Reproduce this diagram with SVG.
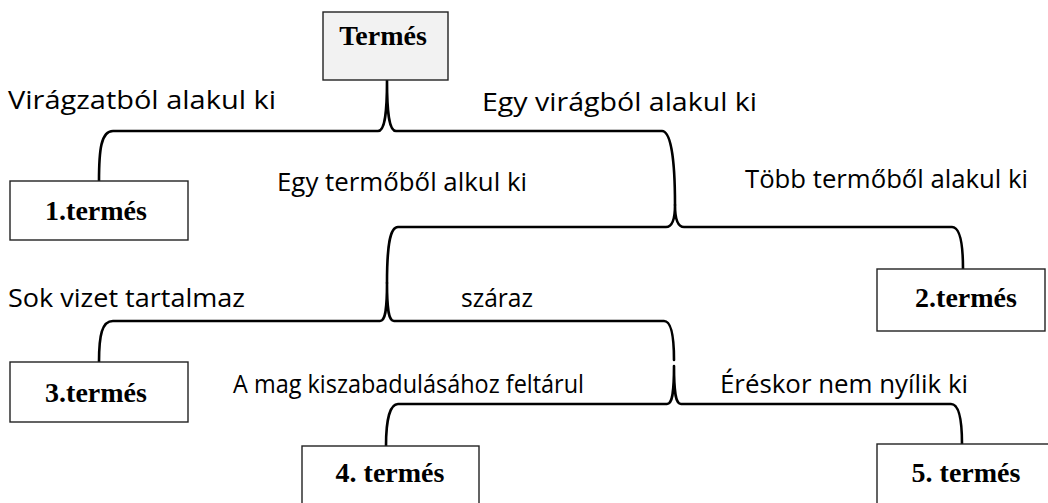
<svg xmlns="http://www.w3.org/2000/svg" width="1048" height="503" viewBox="0 0 1048 503">
<style>
.box{fill:#fff;stroke:#222;stroke-width:1.4}
.root{fill:#f2f2f2;stroke:#222;stroke-width:1.4}
.br{fill:none;stroke:#000;stroke-width:2.6;stroke-linecap:round;stroke-linejoin:round}
.nt{font-family:"Liberation Serif","Times New Roman",serif;font-weight:bold;font-size:28px;fill:#000;text-anchor:middle}
.lb{font-family:"Open Sans","Noto Sans",sans-serif;font-size:25px;fill:#000}
</style>
<rect width="1048" height="503" fill="#fff"/>
<g id="connectors">
<path class="br" d="M99,181 C99,150 101,131 113,131 L378,131 C384,131 387,118 387,80 M387,80 C387,118 390,131 396,131 L662,131 C671,131 675,160 675,205"/>
<path class="br" d="M675,205 C675,220 672,227 666,227 L398,227 C390,227 387,245 387,283 M675,205 C675,220 678,227 684,227 L952,227 C960,227 963,245 963,269"/>
<path class="br" d="M387,283 C387,312 385,321 380,321 L113,321 C102,321 99,335 99,362 M387,283 C387,312 389,321 394,321 L664,321 C671,321 674,335 674,360"/>
<path class="br" d="M674,366 C674,395 672,404 667,404 L398,404 C390,404 386,420 386,446 M674,366 C674,395 676,404 681,404 L951,404 C959,404 962,420 962,444"/>
</g>
<g id="n0"><rect class="root" x="323" y="12" width="125" height="68"/><text class="nt" x="383" y="45" font-size="23">Termés</text></g>
<g id="n1"><rect class="box" x="10" y="181" width="178" height="59"/><text class="nt" x="96" y="220">1.termés</text></g>
<g id="n2"><rect class="box" x="877" y="269" width="168" height="62"/><text class="nt" x="966" y="307">2.termés</text></g>
<g id="n3"><rect class="box" x="10" y="362" width="178" height="60"/><text class="nt" x="96" y="402">3.termés</text></g>
<g id="n4"><rect class="box" x="302" y="446" width="177" height="70"/><text class="nt" x="390" y="482">4. termés</text></g>
<g id="n5"><rect class="box" x="877" y="444" width="180" height="70"/><text class="nt" x="966" y="482">5. termés</text></g>
<g id="labels">
<text class="lb" x="8" y="109" textLength="268" lengthAdjust="spacingAndGlyphs">Virágzatból alakul ki</text>
<text class="lb" x="482" y="111" textLength="275" lengthAdjust="spacingAndGlyphs">Egy virágból alakul ki</text>
<text class="lb" x="277" y="191" textLength="250" lengthAdjust="spacingAndGlyphs">Egy termőből alkul ki</text>
<text class="lb" x="745" y="188" textLength="283" lengthAdjust="spacingAndGlyphs">Több termőből alakul ki</text>
<text class="lb" x="8" y="307" textLength="237" lengthAdjust="spacingAndGlyphs">Sok vizet tartalmaz</text>
<text class="lb" x="461" y="307" textLength="72" lengthAdjust="spacingAndGlyphs">száraz</text>
<text class="lb" x="233" y="393" textLength="351" lengthAdjust="spacingAndGlyphs">A mag kiszabadulásához feltárul</text>
<text class="lb" x="720" y="393" textLength="248" lengthAdjust="spacingAndGlyphs">Éréskor nem nyílik ki</text>
</g>
</svg>
